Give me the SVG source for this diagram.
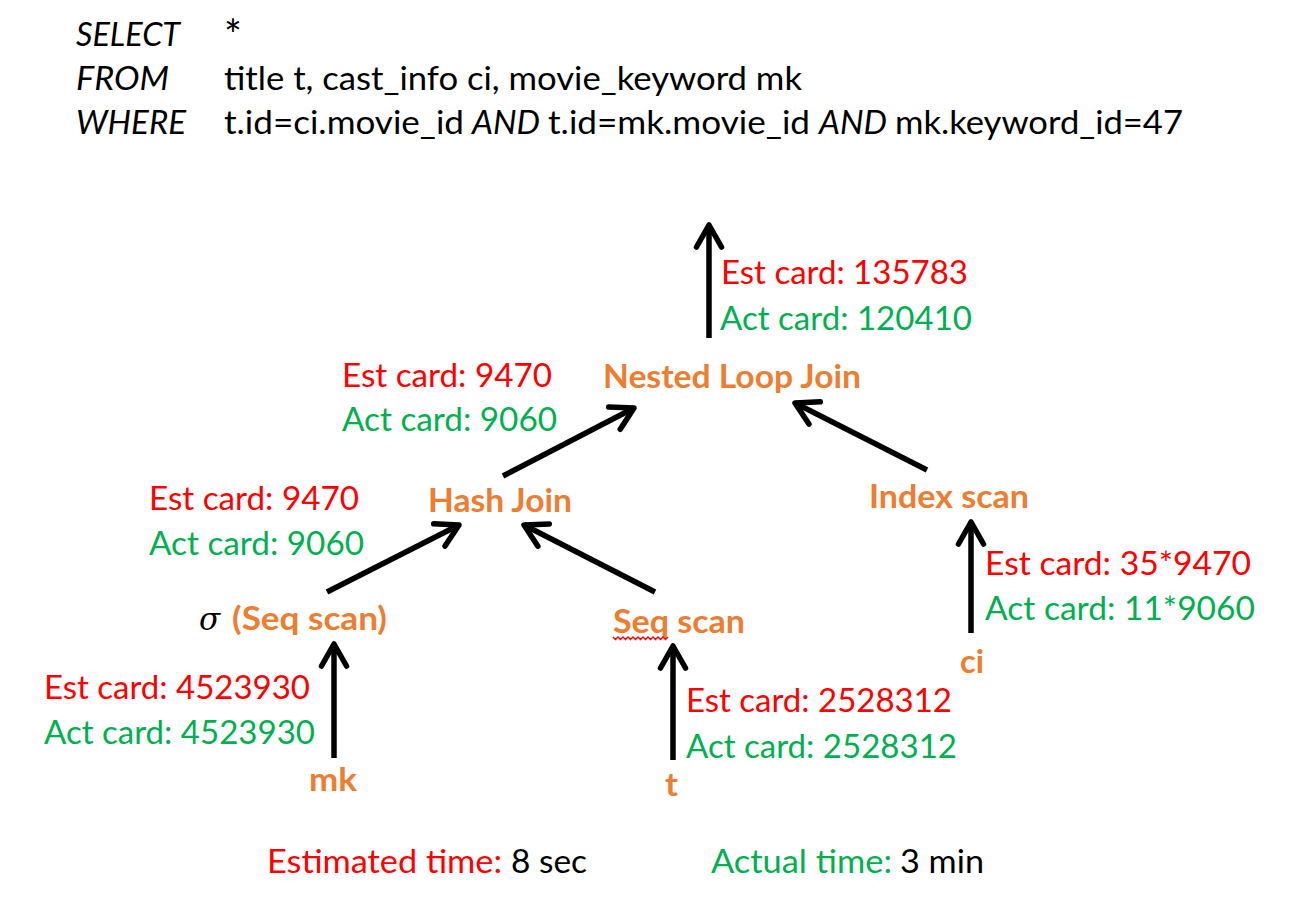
<svg xmlns="http://www.w3.org/2000/svg" width="1290" height="916" viewBox="0 0 1290 916">
  <style>
    text { font-family: "Lato", "Liberation Sans", sans-serif; font-size: 33px; }
    .k { fill: #000; }
    .it { font-style: italic; }
    .op { fill: #ED7D31; font-weight: bold; }
    .est { fill: #FF0000; }
    .act { fill: #00B050; }
    .sig { font-family: "DejaVu Serif", "Liberation Serif", serif; font-style: italic; font-size: 31px; fill: #000; }
    .edge { stroke: #000; stroke-width: 5.5; fill: none; marker-end: url(#ah); }
  </style>
  <defs>
    <marker id="ah" markerUnits="userSpaceOnUse" markerWidth="40" markerHeight="40" refX="0" refY="0" orient="auto" overflow="visible">
      <path d="M-22,-12.5 L0,0 L-22,12.5" fill="none" stroke="#000" stroke-width="5.5" stroke-linecap="round" stroke-linejoin="round"/>
    </marker>
  </defs>
  <rect width="1290" height="916" fill="#fff"/>

  <g id="query">
    <text class="k it" x="76" y="46" textLength="104" lengthAdjust="spacingAndGlyphs">SELECT</text>
    <text class="k" x="224" y="50" style="font-size:42px">*</text>
    <text class="k it" x="76" y="90" textLength="93" lengthAdjust="spacingAndGlyphs">FROM</text>
    <text class="k" x="224" y="90" textLength="578" lengthAdjust="spacingAndGlyphs">title t, cast_info ci, movie_keyword mk</text>
    <text class="k it" x="76" y="134" textLength="110" lengthAdjust="spacingAndGlyphs">WHERE</text>
    <text class="k" x="224" y="134" textLength="240" lengthAdjust="spacingAndGlyphs">t.id=ci.movie_id</text>
    <text class="k it" x="472" y="134" textLength="68" lengthAdjust="spacingAndGlyphs">AND</text>
    <text class="k" x="548" y="134" textLength="262" lengthAdjust="spacingAndGlyphs">t.id=mk.movie_id</text>
    <text class="k it" x="819" y="134" textLength="68" lengthAdjust="spacingAndGlyphs">AND</text>
    <text class="k" x="895" y="134" textLength="288" lengthAdjust="spacingAndGlyphs">mk.keyword_id=47</text>
  </g>

  <g id="connectors">
    <path class="edge" d="M709,338 L709,225"/>
    <path class="edge" d="M503,476 L634,408"/>
    <path class="edge" d="M927,470 L795,403"/>
    <path class="edge" d="M327,592 L459,525"/>
    <path class="edge" d="M655,592 L524,525"/>
    <path class="edge" d="M971,633 L971,522"/>
    <path class="edge" d="M334,758 L334,644"/>
    <path class="edge" d="M673,760 L673,646"/>
  </g>

  <g id="edge-labels">
    <text class="est" x="721" y="284" textLength="247" lengthAdjust="spacingAndGlyphs">Est card: 135783</text>
    <text class="act" x="720" y="330" textLength="252" lengthAdjust="spacingAndGlyphs">Act card: 120410</text>
    <text class="est" x="342" y="387" textLength="210" lengthAdjust="spacingAndGlyphs">Est card: 9470</text>
    <text class="act" x="342" y="431" textLength="215" lengthAdjust="spacingAndGlyphs">Act card: 9060</text>
    <text class="est" x="149" y="510" textLength="210" lengthAdjust="spacingAndGlyphs">Est card: 9470</text>
    <text class="act" x="149" y="555" textLength="215" lengthAdjust="spacingAndGlyphs">Act card: 9060</text>
    <text class="est" x="985" y="575" textLength="266" lengthAdjust="spacingAndGlyphs">Est card: 35*9470</text>
    <text class="act" x="985" y="620" textLength="270" lengthAdjust="spacingAndGlyphs">Act card: 11*9060</text>
    <text class="est" x="44" y="699" textLength="266" lengthAdjust="spacingAndGlyphs">Est card: 4523930</text>
    <text class="act" x="44" y="744" textLength="271" lengthAdjust="spacingAndGlyphs">Act card: 4523930</text>
    <text class="est" x="686" y="712" textLength="266" lengthAdjust="spacingAndGlyphs">Est card: 2528312</text>
    <text class="act" x="686" y="758" textLength="271" lengthAdjust="spacingAndGlyphs">Act card: 2528312</text>
  </g>

  <g id="node-nested-loop-join">
    <text class="op" x="603" y="388" textLength="258" lengthAdjust="spacingAndGlyphs">Nested Loop Join</text>
  </g>
  <g id="node-hash-join">
    <text class="op" x="428" y="512" textLength="144" lengthAdjust="spacingAndGlyphs">Hash Join</text>
  </g>
  <g id="node-index-scan">
    <text class="op" x="869" y="508" textLength="160" lengthAdjust="spacingAndGlyphs">Index scan</text>
  </g>
  <g id="node-select-seq-scan">
    <text class="sig" x="199" y="630">σ</text>
    <text class="op" x="232" y="630" textLength="155" lengthAdjust="spacingAndGlyphs">(Seq scan)</text>
  </g>
  <g id="node-seq-scan">
    <text class="op" x="613" y="633" textLength="132" lengthAdjust="spacingAndGlyphs">Seq scan</text>
    <path d="M613,637 l2.5,2.5 l2.5,-2.5 l2.5,2.5 l2.5,-2.5 l2.5,2.5 l2.5,-2.5 l2.5,2.5 l2.5,-2.5 l2.5,2.5 l2.5,-2.5 l2.5,2.5 l2.5,-2.5 l2.5,2.5 l2.5,-2.5 l2.5,2.5 l2.5,-2.5 l2.5,2.5 l2.5,-2.5 l2.5,2.5 l2.5,-2.5 l2.5,2.5 l2.5,-2.5" fill="none" stroke="#FF0000" stroke-width="1.4"/>
  </g>
  <g id="node-mk">
    <text class="op" x="309" y="791" textLength="48" lengthAdjust="spacingAndGlyphs">mk</text>
  </g>
  <g id="node-t">
    <text class="op" x="665" y="796" textLength="13" lengthAdjust="spacingAndGlyphs">t</text>
  </g>
  <g id="node-ci">
    <text class="op" x="960" y="673" textLength="24" lengthAdjust="spacingAndGlyphs">ci</text>
  </g>

  <g id="timing">
    <text class="est" x="267" y="873" textLength="235" lengthAdjust="spacingAndGlyphs">Estimated time:</text>
    <text class="k" x="511" y="873" textLength="76" lengthAdjust="spacingAndGlyphs">8 sec</text>
    <text class="act" x="711" y="873" textLength="181" lengthAdjust="spacingAndGlyphs">Actual time:</text>
    <text class="k" x="900" y="873" textLength="84" lengthAdjust="spacingAndGlyphs">3 min</text>
  </g>
</svg>
